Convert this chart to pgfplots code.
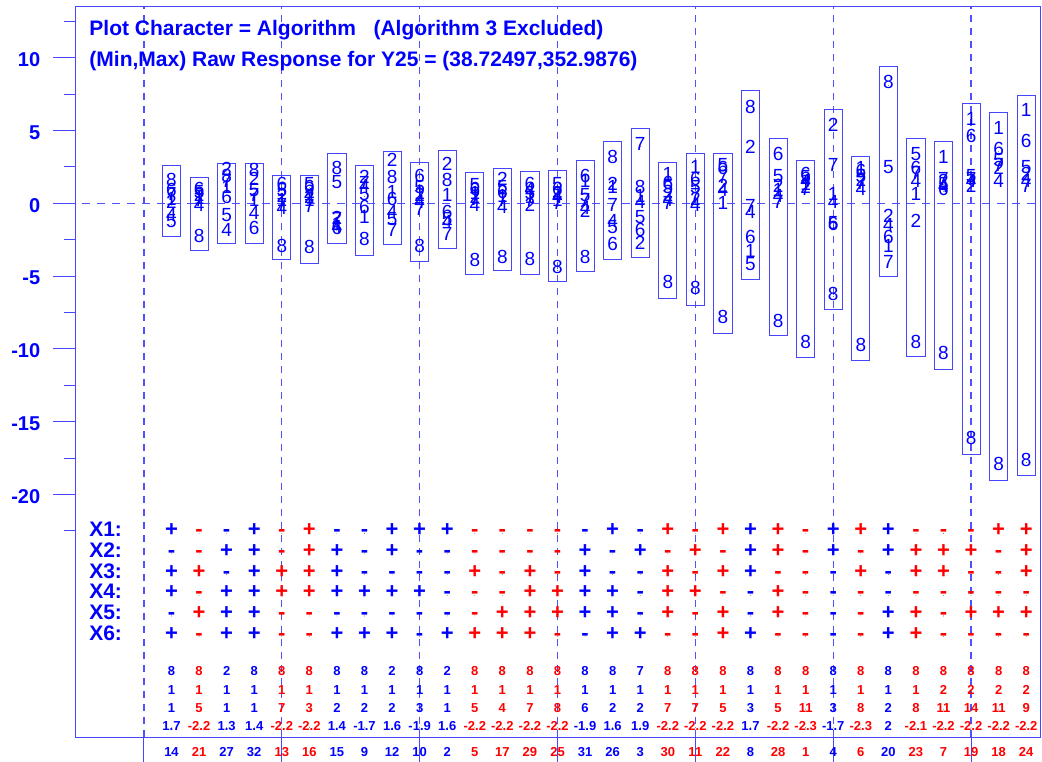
\documentclass[border=0pt]{standalone}
\usepackage{pgfplots}
\pgfplotsset{compat=1.18}
\usepackage{pgfplotstable}
\usepgfplotslibrary{statistics}
\usepackage{fontspec}
\setmainfont{Liberation Sans}

\newcommand\fs[1]{\fontsize{#1}{#1}\selectfont}
\definecolor{lineblue}{RGB}{70,70,255}
\definecolor{dashblue}{RGB}{80,80,255}

% responses per run (column) for each algorithm, and the (min,max) box of the run
\pgfplotstableread{
col r1 r2 r4 r5 r6 r7 r8 lo hi
1 0.1 -0.12 -1.0 -1.45 0.7 0.45 1.37 -2.25 2.59
2 0.15 0.35 -0.3 0.55 0.75 0.0 -2.45 -3.25 1.79
3 0.9 2.15 -2.05 -1.0 0.2 1.3 1.7 -2.75 2.75
4 0.0 1.45 -0.85 0.7 -1.9 0.35 2.1 -2.75 2.75
5 0.0 0.3 -0.5 0.7 1.1 -0.3 -3.1 -3.85 1.94
6 0.0 0.2 0.4 1.1 0.9 -0.4 -3.2 -4.12 1.94
7 -1.6 -1.2 -1.85 1.25 -1.9 -1.25 2.25 -2.75 3.39
8 -1.15 1.6 1.0 0.45 -0.45 1.2 -2.65 -3.55 2.63
9 0.6 2.75 -0.8 -1.25 0.1 -2.05 1.6 -2.86 3.54
10 0.5 0.35 -0.1 0.9 1.7 -0.6 -3.1 -4.01 2.79
11 0.35 2.5 -1.5 -1.3 -0.8 -2.3 1.4 -3.09 3.66
12 0.5 0.2 -0.3 1.05 0.8 0.1 -4.1 -4.86 2.1
13 0.3 1.5 -0.45 0.9 0.6 0.0 -3.9 -4.63 2.36
14 0.2 -0.35 0.8 0.5 1.15 0.0 -4.0 -4.86 2.22
15 0.05 0.5 0.2 1.15 0.8 -0.2 -4.6 -5.34 2.24
16 1.3 -0.7 -0.5 0.35 1.7 0.0 -3.9 -4.7 2.93
17 0.9 1.15 -1.4 -1.8 -3.0 -0.35 2.95 -3.89 4.23
18 0.3 -2.95 -0.1 -1.15 -2.0 3.9 0.9 -3.73 5.15
19 1.8 0.4 0.0 0.9 1.2 -0.2 -5.6 -6.52 2.79
20 2.3 0.1 -0.3 0.9 1.5 0.4 -6.05 -7.03 3.43
21 -0.2 1.0 0.7 2.4 2.2 1.6 -8.0 -8.93 3.39
22 -3.45 3.65 -0.8 -4.35 -2.5 -0.4 6.4 -5.2 7.73
23 0.7 1.0 0.3 1.7 3.2 -0.1 -8.25 -9.05 4.46
24 1.1 0.9 1.3 1.6 1.8 0.8 -9.7 -10.6 2.93
25 0.45 5.15 -0.1 -1.55 -1.65 2.4 -6.4 -7.28 6.45
26 2.2 1.4 0.8 1.7 2.0 1.2 -9.95 -10.81 3.25
27 -3.1 -1.05 -1.7 2.3 -2.5 -4.25 8.1 -5.04 9.42
28 0.45 -1.4 1.35 3.2 2.2 1.9 -9.7 -10.49 4.46
29 2.95 1.3 1.0 1.15 0.8 1.45 -10.5 -11.4 4.23
30 5.6 1.0 1.3 1.7 4.45 1.5 -16.35 -17.22 6.87
31 5.0 2.25 1.35 2.75 3.55 2.4 -18.1 -19.0 6.22
32 6.2 1.8 1.3 2.3 4.1 1.0 -17.8 -18.66 7.39
}\resp

% design settings of each run: run id, colour class, factor signs, summary rows
\pgfplotstableread{
col id clr s1 s2 s3 s4 s5 s6 a b c d
1 14 0 + - + + - + 8 1 1 1.7
2 21 1 - - + - + - 8 1 5 -2.2
3 27 0 - + - + + + 2 1 1 1.3
4 32 0 + + + + + + 8 1 1 1.4
5 13 1 - - + + - - 8 1 7 -2.2
6 16 1 + + + + - - 8 1 3 -2.2
7 15 0 - + + + - + 8 1 2 1.4
8 9 0 - - - + - + 8 1 2 -1.7
9 12 0 + + - + - + 2 1 2 1.6
10 10 0 + - - + - - 8 1 3 -1.9
11 2 0 + - - - - + 2 1 1 1.6
12 5 1 - - + - - + 8 1 5 -2.2
13 17 1 - - - - + + 8 1 4 -2.2
14 29 1 - - + + + + 8 1 7 -2.2
15 25 1 - - - + + - 8 1 8 -2.2
16 31 0 - + + + + - 8 1 6 -1.9
17 26 0 + - - + + + 8 1 2 1.6
18 3 0 - + - - - + 7 1 2 1.9
19 30 1 + - + + + - 8 1 7 -2.2
20 11 1 - + - + - - 8 1 7 -2.2
21 22 1 + - + - + + 8 1 5 -2.2
22 8 0 + + + - - + 8 1 3 1.7
23 28 1 + + - + + - 8 1 5 -2.2
24 1 1 - - - - - - 8 1 11 -2.3
25 4 0 + + - - - - 8 1 3 -1.7
26 6 1 + - + - - - 8 1 8 -2.3
27 20 0 + + - - + + 8 1 2 2
28 23 1 - + + - + + 8 1 8 -2.1
29 7 1 - + + - - - 8 2 11 -2.2
30 19 1 - + - - + - 8 2 14 -2.2
31 18 1 + - - - + - 8 2 11 -2.2
32 24 1 + + + - + - 8 2 9 -2.2
}\design

\pgfplotsset{
  txt/.style={only marks, mark=*, mark size=0.01pt,
    mark options={draw=none, fill=none},
    every node near coord/.append style={inner sep=0pt, anchor=center,
      text height=0.716em, text depth=0pt}},
  % one colour class of a text row: class, font size, colour
  trow/.style n args={3}{txt, point meta=explicit symbolic, nodes near coords,
    restrict expr to domain={\thisrow{clr}}{#1:#1},
    every node near coord/.append style={font=\bfseries\fs{#2}, text=#3}},
  rangebox/.style={color=lineblue, line width=0.9pt, solid},
}
% a text row of the design table: y position, column, font size
\newcommand\textrow[3]{%
  \addplot[trow={0}{#3}{blue}] table[x=col, y expr=#1, meta=#2] {\design};
  \addplot[trow={1}{#3}{red}] table[x=col, y expr=#1, meta=#2] {\design};}

\begin{document}
\begin{tikzpicture}
\begin{axis}[name=ax, scale only axis, width=965pt, height=731pt,
  xmin=-2.5, xmax=32.5, ymin=-36.65, ymax=13.55,
  clip=false,
  axis line style={color=lineblue, line width=0.9pt},
  tick pos=left, tick align=outside,
  every tick/.style={color=lineblue, line width=0.9pt},
  xtick={0,5,...,30}, xticklabels={},
  xtick style={/pgfplots/major tick length=25pt},
  xmajorgrids,
  every axis grid/.style={draw=dashblue, line width=1.2pt, dash pattern=on 7pt off 6pt},
  ytick={-20,-15,...,10}, yticklabels={-20,-15,-10,-5,0,5,10},
  minor ytick={-22.5,-17.5,...,12.5},
  ytick style={/pgfplots/major tick length=22pt, /pgfplots/minor tick length=11pt},
  yticklabel style={font=\bfseries\fs{20}, text=blue, anchor=east,
    xshift=-27pt, yshift=-2pt},
  boxplot/draw direction=y,
  boxplot/box extend=0.66,
]
% zero reference line
\addplot[draw=dashblue, line width=1.2pt, dash pattern=on 8pt off 7pt]
  coordinates {(-2.25,0) (32.5,0)};

% (min,max) boxes of every run
\pgfplotsinvokeforeach{0,...,31}{
  \pgfplotstablegetelem{#1}{lo}\of\resp \let\blo\pgfplotsretval
  \pgfplotstablegetelem{#1}{hi}\of\resp \let\bhi\pgfplotsretval
  \edef\doit{\noexpand\addplot[rangebox, boxplot prepared={draw position=\the\numexpr#1+1\relax,
      lower whisker=\blo, lower quartile=\blo, median=\blo,
      upper quartile=\bhi, upper whisker=\bhi}] coordinates {};}
  \doit
}

% responses, plotted with the algorithm number as character
\pgfplotsinvokeforeach{1,2,4,5,6,7,8}{
  \addplot[txt, nodes near coords={#1},
    every node near coord/.append style={font=\fs{19}, text=blue}]
    table[x=col, y=r#1] {\resp};
}

% factor settings
\textrow{-22.66}{s1}{22}
\textrow{-24.08}{s2}{22}
\textrow{-25.50}{s3}{22}
\textrow{-26.92}{s4}{22}
\textrow{-28.34}{s5}{22}
\textrow{-29.76}{s6}{22}

% summary rows and run ids
\textrow{-32.17}{a}{13}
\textrow{-33.47}{b}{13}
\textrow{-34.74}{c}{13}
\textrow{-35.99}{d}{13}
\textrow{-37.75}{id}{13}

% row labels
\begin{scope}[every node/.style={anchor=west, inner sep=0pt, text=blue,
    font=\bfseries\fs{21}, text height=0.716em, text depth=0pt}]
  \node at (axis cs:-1.99,-22.66) {X1:};
  \node at (axis cs:-1.99,-24.08) {X2:};
  \node at (axis cs:-1.99,-25.50) {X3:};
  \node at (axis cs:-1.99,-26.92) {X4:};
  \node at (axis cs:-1.99,-28.34) {X5:};
  \node at (axis cs:-1.99,-29.76) {X6:};
\end{scope}

% header
\node[anchor=base west, inner sep=0pt, text=blue, font=\bfseries\fs{21}]
  at (rel axis cs:0.0148,0.959) {Plot Character = Algorithm\ \ \ (Algorithm 3 Excluded)};
\node[anchor=base west, inner sep=0pt, text=blue, font=\bfseries\fs{21}]
  at (rel axis cs:0.0148,0.9166) {(Min,Max) Raw Response for Y25 = (38.72497,352.9876)};
\end{axis}
\pgfresetboundingbox
\useasboundingbox ([xshift=-75pt,yshift=-25pt]ax.south west) rectangle ([xshift=2pt,yshift=6pt]ax.north east);
\end{tikzpicture}
\end{document}
